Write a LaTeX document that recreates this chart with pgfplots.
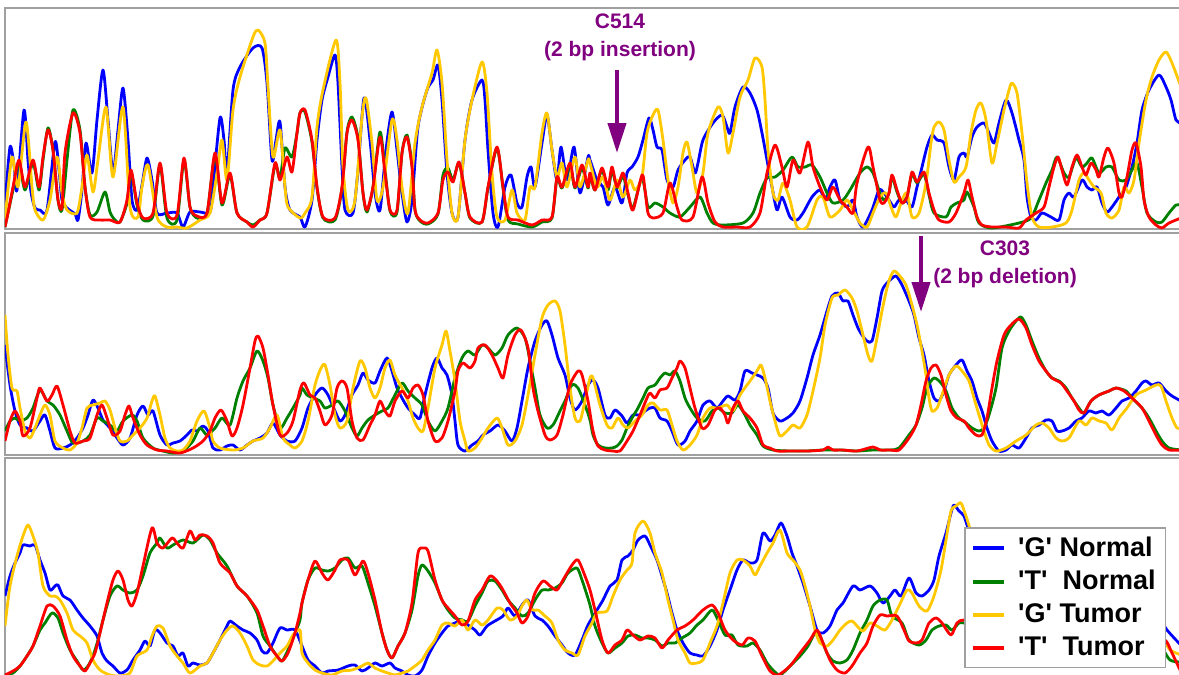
\documentclass[border=0pt]{standalone}
\usepackage{fontspec}
\setmainfont{Liberation Sans}
\usepackage{pgfplots}
\pgfplotsset{compat=1.18}
\usetikzlibrary{arrows.meta}
\definecolor{cB}{RGB}{0,0,255}
\definecolor{cG}{RGB}{0,128,0}
\definecolor{cY}{RGB}{255,200,0}
\definecolor{cR}{RGB}{255,0,0}
\definecolor{cP}{RGB}{128,0,128}
\definecolor{frame}{RGB}{160,160,160}
\pgfplotsset{
  panel/.style={
    scale only axis, width=588pt, xmin=5, xmax=1181, y dir=reverse,
    ticks=none, axis line style={draw=frame, line width=0.8pt},
    every axis plot/.append style={line width=1.4pt, line join=round, mark=none, smooth, tension=0.45},
  }
}
\newcommand{\q}{\textquotesingle}
\begin{document}
\begin{tikzpicture}
\useasboundingbox (0,0) rectangle (589.5pt,-337.5pt);
% ---------------- Panel 1 ----------------
\begin{axis}[panel, at={(2.5pt,-4pt)}, anchor=north west, height=110.5pt, ymin=8, ymax=229]
\addplot[cB] coordinates {(5,205) (10,147) (14,165) (17,190) (24,110) (28,160) (31,192) (35,208) (40,210) (47,210) (55,142) (59,170) (62,200) (67,208) (75,214) (78,220) (82,190) (86,143) (92,173) (97,120) (103,70) (108,120) (113,173) (118,130) (123,88) (128,140) (132,200) (137,210) (142,185) (147,158) (152,180) (157,213) (167,213) (177,213) (183,227) (190,212) (200,212) (210,212) (213,187) (220,118) (224,140) (227,173) (233,90) (240,67) (253,48) (262,48) (267,83) (272,160) (276,140) (280,122) (285,187) (290,210) (300,217)
(305,227) (312,200) (317,140) (322,100) (328,77) (335,55) (338,83) (342,167) (345,210) (353,213) (358,170) (364,98) (370,140) (375,193) (380,210) (386,150) (392,112) (397,150) (402,193) (407,222) (412,200) (418,127) (427,90) (433,80) (438,65) (442,100) (447,173) (452,213) (458,217) (465,140) (472,100) (482,80) (485,100) (488,150) (493,213) (498,227) (505,187) (511,175) (517,203) (522,207) (527,177) (531,167) (535,187) (542,143) (547,115) (552,150) (557,180) (561,147) (567,180) (574,147) (580,193) (588,157)
(590,160) (597,180) (603,187) (608,205) (615,187) (622,203) (627,173) (632,167) (638,157) (643,140) (649,118) (653,130) (657,147) (662,150) (667,180) (673,187) (678,170) (685,160) (690,157) (695,173) (698,163) (703,140) (713,123) (722,115) (727,127) (730,133) (735,107) (743,87) (750,93) (757,110) (762,133) (767,160) (772,187) (777,210) (782,197) (790,217) (797,220) (803,213) (812,197) (820,190) (825,200) (830,187) (835,180) (840,200) (847,207) (853,200) (857,217) (863,227) (872,210)
(879,190) (884,193) (889,200) (894,207) (899,200) (906,200) (912,207) (917,187) (922,167) (927,147) (932,135) (937,140) (944,143) (949,167) (954,180) (959,157) (964,153) (967,157) (972,137) (977,127) (984,123) (989,133) (994,143) (999,123) (1006,100) (1012,113) (1019,140) (1024,160) (1027,197) (1031,217) (1036,220) (1042,213) (1051,217) (1059,220) (1064,200) (1069,193) (1074,197) (1082,180) (1087,187) (1092,190) (1097,187) (1102,203) (1107,212) (1112,207) (1119,197) (1126,187) (1132,167) (1137,143) (1142,110) (1149,90) (1159,75) (1166,87) (1171,100) (1176,120) (1181,123)};
\addplot[cG] coordinates {(5,227) (8,213) (13,190) (19,163) (25,190) (33,163) (39,190) (43,160) (48,128) (53,150) (58,200) (62,210) (67,160) (73,110) (80,130) (85,187) (90,215) (97,212) (105,192) (110,212) (115,220) (120,222) (127,203) (131,172) (137,205) (143,220) (153,216) (160,165) (167,218) (177,220) (184,160) (190,207) (197,218) (207,213) (215,155) (222,205) (230,175) (237,213) (247,222) (253,225) (260,220) (267,213) (275,165) (280,178) (285,148) (292,157) (297,133) (300,113)
(305,112) (312,142) (317,188) (323,218) (335,220) (342,188) (347,132) (352,117) (358,138) (363,193) (367,212) (373,187) (380,132) (385,170) (390,211) (397,212) (402,153) (407,135) (412,165) (415,210) (420,221) (428,224) (438,214) (443,175) (448,168) (453,180) (459,163) (465,193) (470,218) (482,222) (488,188) (497,148) (503,188) (508,220) (518,224) (532,227) (542,222) (552,218) (557,178) (562,188) (570,166) (575,188) (582,168) (588,188)
(590,175) (595,190) (602,170) (608,190) (612,170) (617,188) (623,176) (628,195) (633,208) (642,178) (648,207) (655,203) (663,207) (670,213) (680,217) (690,207) (700,197) (707,213) (713,223) (723,225) (743,223) (753,213) (760,193) (767,178) (775,177) (783,170) (792,157) (798,167) (805,167) (812,165) (820,177) (827,193) (833,203) (843,200) (850,190) (860,173) (867,167) (873,173) (880,193)
(884,200) (889,193) (892,177) (897,192) (902,203) (907,197) (912,174) (917,183) (924,174) (929,195) (934,213) (946,217) (951,207) (957,203) (964,200) (967,192) (974,207) (979,223) (992,228) (1019,223) (1031,218) (1039,200) (1046,183) (1052,170) (1057,157) (1064,173) (1069,177) (1076,158) (1082,167) (1087,163) (1092,158) (1099,173) (1106,167) (1112,167) (1119,180) (1126,180) (1132,170) (1137,163) (1142,187) (1147,213) (1156,222) (1162,222) (1169,213) (1176,205) (1181,205)};
\addplot[cY] coordinates {(5,220) (12,157) (18,187) (26,122) (32,187) (35,210) (43,220) (50,200) (57,157) (62,193) (67,210) (77,213) (82,187) (87,155) (93,192) (98,160) (106,107) (113,177) (123,107) (130,207) (138,217) (142,187) (148,165) (157,217) (167,227) (177,227) (187,228) (200,220) (210,213) (217,173) (222,140) (227,180) (233,110) (240,77) (253,37) (258,30) (265,43) (268,87) (273,157) (280,130) (285,187) (288,207) (300,218)
(305,213) (312,197) (317,127) (323,90) (336,40) (340,83) (343,167) (348,210) (355,200) (362,117) (366,98) (372,143) (377,200) (383,187) (392,120) (397,140) (402,187) (408,213) (415,143) (422,107) (432,73) (437,50) (442,83) (447,160) (452,213) (458,217) (465,140) (472,100) (482,62) (487,93) (492,173) (497,217) (505,220) (512,190) (517,213) (525,220) (530,187) (535,187) (542,133) (547,113) (552,150) (557,177) (562,163) (567,187) (575,157) (580,187) (588,160)
(590,163) (597,187) (603,177) (610,200) (617,180) (623,197) (630,180) (635,190) (642,177) (647,133) (653,115) (658,110) (663,140) (668,180) (673,203) (678,187) (683,153) (687,142) (692,167) (697,193) (703,173) (708,133) (718,107) (723,117) (728,153) (733,133) (740,97) (748,80) (755,58) (762,67) (765,100) (768,150) (773,193) (778,200) (783,183) (790,200) (797,227) (807,227) (817,200) (823,197) (830,217) (840,210) (847,200) (853,210) (860,223) (867,227) (873,213) (880,197)
(886,193) (891,207) (896,217) (902,200) (907,193) (912,217) (919,213) (926,183) (931,143) (934,127) (939,122) (944,130) (949,160) (954,182) (959,177) (966,167) (971,133) (976,110) (981,103) (986,120) (992,163) (997,143) (1004,110) (1009,90) (1012,83) (1017,93) (1022,133) (1027,183) (1032,217) (1039,227) (1052,227) (1066,223) (1072,210) (1079,180) (1084,173) (1089,180) (1094,187) (1101,193) (1106,213) (1112,218) (1119,210) (1124,187) (1129,193) (1134,180) (1139,143) (1146,100) (1152,77) (1159,60) (1166,52) (1172,63) (1181,87)};
\addplot[cR] coordinates {(5,227) (8,213) (13,187) (19,160) (25,187) (33,160) (39,187) (43,157) (48,130) (53,150) (58,200) (62,207) (65,153) (73,113) (80,133) (85,187) (90,217) (100,220) (110,220) (120,222) (127,200) (131,170) (137,203) (143,218) (153,213) (160,163) (167,213) (177,215) (184,158) (190,207) (197,216) (207,213) (215,153) (222,203) (230,173) (237,213) (247,222) (253,227) (260,220) (267,213) (275,163) (280,180) (287,157) (292,172) (297,133) (300,113)
(305,110) (312,140) (317,187) (323,217) (335,218) (342,187) (347,133) (352,120) (358,140) (363,193) (367,210) (373,187) (380,137) (385,173) (390,210) (397,210) (402,153) (407,137) (412,167) (415,210) (420,220) (428,223) (438,213) (443,180) (448,172) (453,182) (459,162) (465,193) (470,217) (482,222) (488,187) (497,147) (503,187) (508,217) (518,220) (532,225) (542,220) (552,217) (557,177) (562,187) (570,163) (575,187) (582,165) (588,187)
(590,173) (595,190) (602,168) (608,187) (612,167) (617,187) (623,173) (628,193) (633,210) (642,175) (645,190) (648,213) (653,218) (663,213) (670,183) (677,207) (682,220) (693,217) (702,177) (708,203) (715,222) (723,227) (737,227) (750,227) (760,213) (767,173) (775,145) (782,167) (787,187) (793,160) (800,173) (808,142) (813,167) (820,187) (827,200) (833,187) (840,200) (847,207) (853,213) (857,183) (868,147) (873,167) (880,200)
(884,203) (889,193) (892,175) (897,190) (902,203) (907,197) (912,172) (917,182) (924,172) (929,193) (934,210) (939,220) (949,222) (956,213) (964,193) (968,180) (972,197) (977,217) (982,225) (992,227) (1006,227) (1019,228) (1026,220) (1036,213) (1044,207) (1049,187) (1054,167) (1058,157) (1062,170) (1067,185) (1072,167) (1077,155) (1082,167) (1086,175) (1091,163) (1096,170) (1099,177) (1104,157) (1108,148) (1114,163) (1119,193) (1122,197) (1127,177) (1132,150) (1136,143) (1141,167) (1144,200) (1149,217) (1156,225) (1162,228) (1169,223) (1181,218)};
\draw[cP, line width=2pt, -{Triangle[width=9pt,length=15pt]}] (axis cs:617,70) -- (axis cs:617,153);
\node[cP, font=\bfseries\fontsize{10.5}{12}\selectfont, align=center] at (axis cs:620,37) {C514\\[2pt](2 bp insertion)};
\end{axis}
% ---------------- Panel 2 ----------------
\begin{axis}[panel, at={(2.5pt,-116.5pt)}, anchor=north west, height=111pt, ymin=233, ymax=455]
\addplot[cB] coordinates {(5,345) (10,385) (15,411) (20,425) (27,428) (33,431) (40,421) (45,415) (50,431) (55,448) (63,448) (70,445) (77,438) (83,428) (88,415) (93,400) (98,408) (103,420) (110,428) (117,438) (123,445) (130,438) (137,415) (143,406) (148,415) (153,411) (160,435) (167,445) (173,443) (180,441) (187,435) (192,430) (197,431) (203,426) (208,431) (213,448) (220,450) (227,446) (233,445) (240,450) (247,445) (253,441) (260,438) (267,433) (273,423) (280,435) (287,441) (295,441)
(302,428) (308,408) (315,395) (322,388) (328,395) (335,411) (340,421) (345,415) (352,395) (358,385) (363,373) (368,380) (375,383) (380,371) (387,358) (392,371) (397,388) (402,398) (408,408) (415,415) (420,418) (425,395) (432,368) (437,358) (442,368) (447,375) (452,395) (455,421) (458,445) (465,451) (472,445) (478,441) (483,435) (490,431) (498,425) (505,431) (512,441) (517,428) (522,401) (528,368) (535,341) (542,325) (547,321) (552,335) (558,358) (565,375) (570,398) (575,410) (582,401) (588,385)
(593,380) (598,388) (605,415) (610,418) (615,410) (622,416) (627,423) (633,415) (640,415) (645,411) (650,408) (655,408) (660,418) (667,421) (672,431) (678,445) (685,441) (690,431) (697,421) (703,405) (710,401) (717,408) (723,401) (728,396) (735,400) (740,391) (745,371) (752,373) (757,375) (763,378) (768,388) (773,413) (780,421) (787,418) (793,413) (800,401) (807,378) (813,355) (820,335) (827,311) (832,296) (838,293) (843,301) (848,301) (853,315) (858,328) (862,335) (867,341) (872,341) (877,318) (882,291) (887,283) (890,280)
(896,276) (902,285) (909,301) (914,315) (919,338) (924,355) (929,381) (934,398) (939,401) (944,391) (949,375) (956,365) (962,360) (967,371) (972,381) (977,398) (982,411) (987,428) (992,441) (999,451) (1006,450) (1012,445) (1019,448) (1026,438) (1032,428) (1039,425) (1046,420) (1052,421) (1057,431) (1062,431) (1069,428) (1076,421) (1082,418) (1089,411) (1096,413) (1102,411) (1109,415) (1116,408) (1122,401) (1129,398) (1136,391) (1142,383) (1146,381) (1152,385) (1159,383) (1166,391) (1172,396) (1181,401)};
\addplot[cG] coordinates {(5,431) (10,421) (15,418) (20,421) (27,418) (33,408) (40,390) (47,401) (53,405) (60,415) (67,431) (73,443) (83,441) (90,435) (97,418) (103,421) (110,425) (117,431) (123,421) (132,415) (137,421) (143,438) (153,448) (163,451) (173,453) (183,451) (193,441) (200,428) (207,435) (215,428) (222,418) (230,425) (237,398) (243,381) (250,368) (257,351) (263,361) (268,378) (273,405) (280,428) (287,418) (293,408) (300,395)
(302,388) (307,395) (313,398) (320,401) (325,408) (332,405) (338,401) (345,411) (352,428) (357,436) (362,428) (368,420) (375,415) (382,411) (388,408) (395,395) (402,383) (408,391) (415,398) (422,405) (428,421) (435,431) (442,421) (448,408) (455,378) (462,358) (468,351) (475,355) (482,345) (488,348) (495,355) (502,348) (508,335) (517,328) (525,338) (530,361) (535,388) (540,415) (547,428) (553,425) (560,411) (565,401) (572,385) (578,388) (585,405) (590,420)
(593,435) (598,445) (605,448) (612,448) (617,446) (622,440) (627,428) (632,418) (638,408) (643,398) (648,388) (655,385) (660,378) (665,373) (670,375) (675,371) (680,381) (685,398) (690,408) (697,418) (705,421) (712,411) (718,408) (725,413) (732,413) (738,405) (745,415) (750,425) (757,435) (763,446) (773,450) (790,451) (807,451) (823,450) (840,450) (857,451) (873,450) (890,450)
(899,448) (909,435) (916,425) (922,408) (927,388) (934,378) (941,383) (946,391) (952,408) (959,418) (966,423) (972,428) (979,431) (984,428) (989,415) (996,388) (1002,348) (1009,331) (1016,321) (1021,317) (1026,325) (1032,341) (1039,358) (1046,371) (1052,378) (1059,381) (1066,388) (1072,398) (1079,408) (1084,413) (1091,401) (1099,395) (1109,391) (1116,388) (1126,391) (1132,398) (1142,408) (1149,418) (1156,431) (1162,441) (1169,448) (1181,450)};
\addplot[cY] coordinates {(5,315) (8,355) (12,388) (17,391) (20,408) (25,431) (30,438) (35,428) (40,415) (45,405) (50,415) (55,441) (63,448) (70,450) (77,443) (82,428) (87,408) (93,405) (100,403) (105,401) (110,410) (115,428) (120,441) (127,441) (133,435) (140,428) (147,418) (152,401) (155,396) (160,415) (165,438) (170,448) (177,451) (183,450) (190,441) (197,421) (204,411) (210,428) (213,441) (220,448) (233,450) (243,448) (253,441) (263,438) (270,428) (277,415) (283,438) (290,445) (295,448)
(302,441) (308,421) (315,385) (321,368) (325,365) (330,385) (335,415) (340,428) (347,421) (353,388) (360,361) (365,368) (370,388) (375,398) (380,388) (385,368) (390,360) (395,375) (402,388) (408,401) (413,418) (418,428) (423,431) (428,408) (435,368) (442,345) (446,331) (450,351) (455,381) (460,421) (465,441) (468,451) (475,448) (482,438) (488,428) (497,418) (502,428) (508,445) (515,441) (522,425) (528,395) (535,355) (542,318) (548,305) (555,301) (560,311) (565,345) (570,388) (575,418) (580,421) (585,401) (590,378)
(593,378) (600,405) (607,425) (612,428) (618,418) (623,425) (628,428) (635,421) (642,415) (648,405) (653,403) (660,410) (667,410) (672,425) (677,441) (683,450) (690,445) (697,435) (703,418) (710,408) (718,408) (727,405) (733,411) (740,395) (750,381) (757,371) (761,365) (765,378) (770,401) (775,421) (780,436) (787,431) (793,425) (800,428) (807,415) (813,391) (820,358) (825,325) (832,298) (838,295) (845,290) (852,298) (857,311) (862,331) (868,355) (872,361) (877,338) (882,311) (887,288) (890,278)
(894,271) (899,275) (906,285) (912,305) (917,325) (922,351) (926,375) (929,398) (932,411) (937,408) (942,395) (949,375) (956,366) (962,371) (969,381) (974,398) (979,415) (984,431) (989,445) (996,451) (1006,448) (1016,441) (1026,435) (1036,425) (1042,423) (1049,428) (1056,438) (1062,441) (1069,438) (1079,421) (1086,425) (1092,418) (1099,421) (1106,423) (1112,430) (1119,418) (1127,408) (1136,395) (1146,390) (1156,385) (1161,386) (1166,401) (1172,418) (1177,428) (1181,428)};
\addplot[cR] coordinates {(5,441) (10,421) (15,411) (20,421) (23,436) (30,428) (37,398) (40,388) (47,401) (52,395) (57,386) (63,405) (70,431) (75,443) (83,441) (90,438) (97,415) (102,405) (107,418) (113,435) (120,431) (125,415) (129,406) (133,418) (140,435) (147,445) (157,450) (167,451) (180,453) (193,448) (203,441) (210,431) (215,418) (221,410) (227,421) (232,436) (237,428) (243,405) (250,368) (255,341) (258,336) (263,348) (268,375) (273,405) (280,435) (287,433) (293,421) (300,390)
(304,383) (310,395) (315,398) (320,411) (325,425) (332,415) (337,388) (342,381) (347,388) (352,421) (357,438) (363,440) (370,425) (375,415) (380,401) (385,411) (390,416) (395,401) (402,391) (408,398) (413,388) (418,385) (423,395) (428,421) (435,441) (442,438) (448,421) (455,391) (458,371) (463,363) (470,368) (475,361) (478,348) (485,345) (492,355) (498,368) (503,378) (508,355) (515,335) (521,330) (528,348) (533,388) (538,411) (545,435) (550,440) (557,435) (563,415) (570,385) (578,371) (582,375) (588,401)
(593,431) (598,446) (605,450) (613,451) (620,451) (627,441) (633,431) (640,415) (647,398) (650,393) (655,398) (660,390) (667,388) (672,378) (677,368) (680,361) (685,368) (690,388) (695,408) (702,428) (708,425) (715,410) (720,408) (725,415) (728,423) (733,408) (738,401) (743,411) (750,418) (757,428) (763,445) (770,448) (777,451) (790,451) (807,451) (823,450) (828,447) (833,450) (843,450) (857,451) (873,447) (880,450) (890,450)
(899,450) (909,438) (916,425) (921,405) (926,381) (931,368) (936,365) (941,375) (946,395) (951,411) (957,418) (964,421) (969,428) (976,435) (982,435) (987,418) (992,388) (997,361) (1004,335) (1011,325) (1019,319) (1026,328) (1032,345) (1039,361) (1046,371) (1052,378) (1061,383) (1067,391) (1074,401) (1079,410) (1084,413) (1091,401) (1099,395) (1109,391) (1116,388) (1124,391) (1132,398) (1142,408) (1149,421) (1156,435) (1162,445) (1169,450) (1181,450)};
\draw[cP, line width=2pt, -{Triangle[width=9pt,length=15pt]}] (axis cs:921,236) -- (axis cs:921,312);
\node[cP, font=\bfseries\fontsize{10.5}{12}\selectfont, align=center] at (axis cs:1005,264) {C303\\[2pt](2 bp deletion)};
\end{axis}
% ---------------- Panel 3 ----------------
\begin{axis}[panel, at={(2.5pt,-229pt)}, anchor=north west, height=109.5pt, ymin=458, ymax=677,
  legend style={at={(0.8155,0.685)}, anchor=north west, draw=frame, line width=0.8pt, fill=white,
    font=\bfseries\fontsize{13.5}{15}\selectfont, inner xsep=3pt, inner ysep=2.5pt, row sep=1.5pt},
  legend cell align=left,
  legend image code/.code={\draw[#1, line width=2pt] (0pt,0pt) -- (15.5pt,0pt); \path (20pt,0pt);}]
\addplot[cB] coordinates {(5,596) (10,576) (15,563) (20,553) (23,545) (30,546) (35,545) (40,560) (45,573) (50,590) (55,586) (58,585) (63,596) (70,600) (77,610) (83,618) (90,626) (97,636) (102,653) (107,661) (113,666) (120,673) (127,670) (133,660) (140,650) (145,641) (150,646) (155,630) (160,633) (167,643) (173,646) (178,656) (183,653) (188,666) (193,663) (200,665) (207,663) (213,653) (220,640) (227,626) (230,621) (237,626) (243,630) (250,633) (257,640) (262,651) (267,653) (273,643) (280,628) (287,630) (295,630)
(302,646) (308,660) (315,666) (322,673) (328,671) (338,670) (348,666) (355,665) (362,671) (368,668) (375,663) (382,666) (390,663) (395,668) (402,671) (408,675) (415,676) (422,670) (428,656) (435,643) (442,633) (448,626) (455,623) (462,620) (468,625) (475,630) (480,635) (487,626) (495,621) (503,616) (508,608) (515,616) (522,605) (528,600) (535,616) (542,620) (548,626) (555,636) (562,645) (568,653) (575,655) (582,640) (588,625)
(597,610) (603,600) (610,586) (617,580) (622,560) (628,556) (633,550) (638,540) (645,536) (650,545) (657,560) (662,576) (667,593) (672,613) (677,630) (683,643) (690,653) (697,655) (703,656) (710,646) (717,630) (723,610) (730,590) (737,570) (743,560) (750,563) (757,560) (763,533) (770,541) (775,535) (781,523) (787,536) (792,553) (797,566) (803,583) (810,606) (817,630) (823,633) (830,626) (837,610) (843,603) (853,586) (860,590) (870,586) (877,593) (883,603) (890,596)
(895,590) (901,596) (909,578) (916,593) (922,596) (929,590) (934,580) (939,556) (946,533) (951,513) (954,505) (959,511) (964,516) (969,530) (980,545) (1000,560) (1030,580) (1060,600) (1090,605) (1120,610) (1150,615) (1160,620) (1167,630) (1176,640) (1181,645)};
\addlegendentry{\q G\q\ Normal}
\addplot[cG] coordinates {(5,675) (13,673) (20,666) (27,656) (33,646) (40,630) (45,623) (52,613) (58,618) (63,633) (70,650) (77,661) (83,670) (88,666) (93,656) (98,640) (103,620) (110,596) (117,586) (123,590) (130,593) (137,590) (143,576) (150,553) (157,543) (160,538) (167,548) (173,545) (183,540) (193,543) (203,535) (210,540) (217,553) (227,566) (237,586) (247,596) (257,613) (263,636) (270,646) (277,656) (282,661) (288,650) (295,633) (300,620)
(302,603) (308,580) (315,568) (322,570) (328,571) (335,568) (342,560) (348,558) (355,568) (362,566) (368,583) (375,606) (382,633) (387,650) (392,658) (398,646) (405,633) (412,610) (418,576) (422,565) (428,571) (435,583) (442,600) (448,610) (455,618) (462,620) (468,621) (475,606) (482,593) (488,581) (495,581) (502,590) (508,600) (515,608) (522,616) (528,613) (535,600) (542,590) (548,590) (555,588) (562,583) (568,573) (577,568) (582,580) (586,592)
(590,605) (595,626) (602,643) (608,653) (615,648) (622,643) (628,636) (635,635) (642,638) (648,638) (655,640) (662,646) (668,643) (675,643) (682,638) (690,633) (697,625) (703,620) (712,610) (718,620) (725,635) (732,635) (738,645) (747,646) (753,643) (760,650) (767,663) (773,670) (780,675) (790,666) (800,656) (808,646) (815,633) (820,636) (827,653) (833,661) (840,663) (847,660) (853,650) (860,633) (867,620) (873,606) (880,600) (887,600)
(892,616) (902,623) (909,640) (919,645) (926,640) (932,630) (939,626) (946,625) (952,630) (959,623) (964,623) (980,625) (1000,630) (1050,640) (1100,640) (1150,640) (1160,645) (1170,660) (1181,662)};
\addlegendentry{\q T\q\ \ Normal}
\addplot[cY] coordinates {(5,626) (10,586) (17,556) (23,536) (28,525) (33,536) (38,553) (43,586) (50,596) (55,596) (60,600) (67,613) (73,630) (80,636) (87,643) (93,660) (100,670) (110,675) (120,676) (130,673) (137,656) (147,650) (152,636) (157,626) (163,628) (170,646) (177,656) (183,663) (190,673) (200,666) (207,663) (213,653) (220,640) (227,630) (233,626) (240,633) (247,646) (253,660) (260,665) (267,666) (273,661) (280,653) (287,646) (293,635) (300,630)
(302,653) (308,663) (315,670) (322,673) (332,675) (342,671) (352,670) (362,666) (368,663) (375,668) (382,671) (388,673) (395,675) (402,673) (408,671) (415,666) (422,660) (428,650) (435,640) (442,625) (448,623) (455,626) (462,620) (468,630) (475,620) (482,625) (488,620) (497,608) (503,610) (510,620) (517,616) (522,606) (527,600) (532,610) (538,610) (545,616) (552,623) (558,640) (565,650) (572,653) (578,655) (585,636) (592,623)
(597,613) (607,611) (613,596) (620,580) (627,570) (632,563) (635,533) (643,521) (650,533) (655,553) (662,573) (668,600) (673,620) (678,640) (685,653) (690,663) (697,663) (703,660) (710,643) (717,626) (723,603) (730,573) (737,560) (743,560) (750,566) (755,575) (760,566) (767,553) (773,543) (780,530) (787,553) (793,560) (800,570) (805,586) (810,606) (815,630) (820,643) (827,646) (833,640) (840,630) (847,623) (852,621) (857,626) (863,631) (870,623) (877,626)
(885,630) (892,620) (899,606) (907,590) (912,593) (919,606) (927,611) (934,596) (941,570) (946,540) (951,511) (956,506) (961,503) (966,516) (975,540) (1000,570) (1030,600) (1060,620) (1090,625) (1120,628) (1150,635) (1165,643) (1170,650) (1181,655)};
\addlegendentry{\q G\q\ Tumor}
\addplot[cR] coordinates {(5,675) (13,671) (20,666) (27,656) (33,646) (40,626) (47,606) (53,606) (60,616) (67,640) (73,656) (80,666) (85,671) (90,663) (95,653) (100,633) (107,603) (113,580) (118,571) (123,580) (128,600) (132,606) (137,593) (143,566) (152,528) (157,543) (163,548) (172,538) (177,543) (183,548) (190,531) (195,540) (200,535) (207,536) (213,543) (220,563) (230,573) (237,586) (247,596) (257,610) (263,626) (270,646) (277,656) (282,661) (288,653) (295,633) (300,613)
(302,603) (308,580) (315,561) (322,573) (328,580) (335,570) (340,560) (348,560) (355,575) (363,561) (368,573) (375,600) (382,633) (387,650) (392,658) (398,646) (405,633) (412,603) (418,553) (423,548) (428,551) (435,580) (442,600) (448,608) (455,616) (462,625) (468,621) (475,600) (482,590) (490,576) (497,581) (503,590) (510,603) (517,613) (522,623) (528,616) (535,593) (543,581) (550,586) (557,590) (563,580) (572,565) (578,560) (585,576)
(590,590) (595,610) (602,640) (608,653) (615,645) (622,640) (627,630) (633,635) (640,640) (648,636) (655,638) (662,648) (668,640) (677,630) (685,626) (693,620) (703,610) (712,605) (718,613) (725,630) (733,640) (742,645) (748,638) (755,641) (762,656) (770,671) (778,675) (790,666) (800,653) (810,640) (817,630) (823,643) (830,660) (837,670) (845,673) (852,666) (860,653) (867,643) (873,626) (880,615) (887,616)
(897,616) (904,630) (909,641) (916,643) (922,640) (929,623) (936,618) (942,623) (951,635) (957,623) (964,620) (980,625) (1000,630) (1050,640) (1100,645) (1150,640) (1165,640) (1172,653) (1181,672)};
\addlegendentry{\q T\q\ \ Tumor}
\end{axis}
\end{tikzpicture}
\end{document}
